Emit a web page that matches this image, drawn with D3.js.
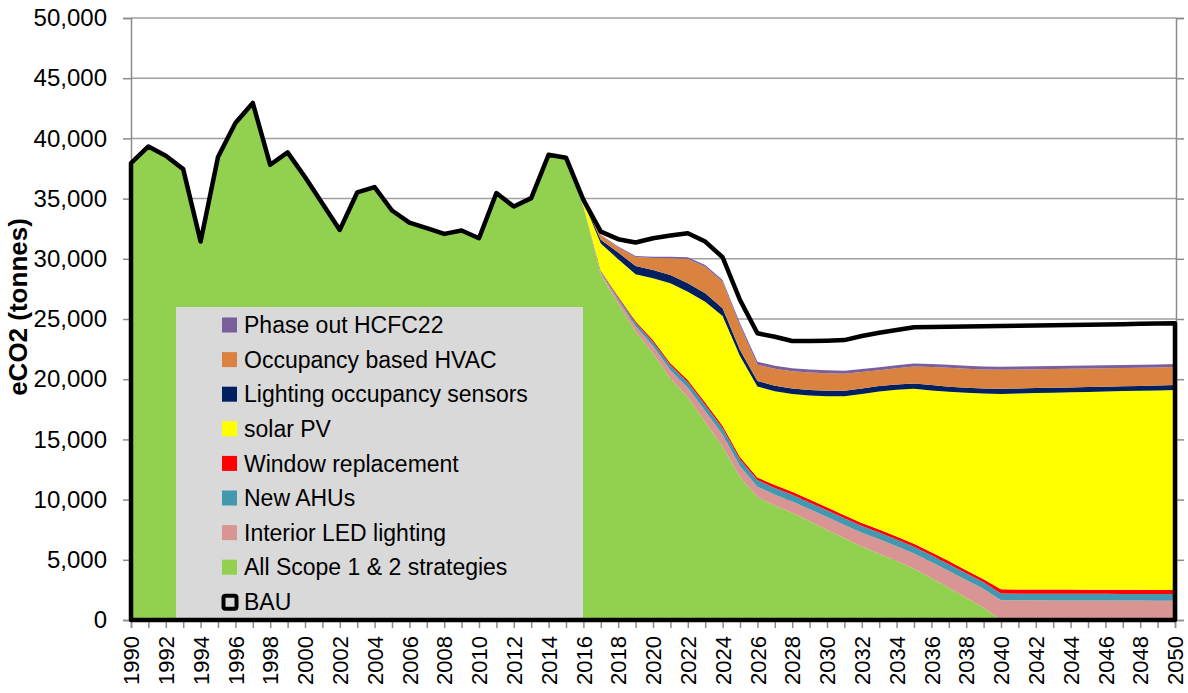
<!DOCTYPE html>
<html>
<head>
<meta charset="utf-8">
<script src="https://cdn.jsdelivr.net/npm/d3@7"></script>
<style>
  body { margin: 0; background: #fff; }
  svg text { font-family: "Liberation Sans", Arial, sans-serif; fill: #000; }
</style>
</head>
<body>
<svg id="chart_svg" width="1188" height="693"></svg>
<script>
// years on the x axis
var years = d3.range(1990, 2051);

// BAU (black outline)
var bau = [37950, 39330, 38560, 37450, 31430, 38450, 41280, 42940, 37810, 38840, 36800, 34600, 32400,
  35510, 35960, 34010, 33010, 32540, 32070, 32350, 31710, 35460, 34340, 35040, 38640, 38400,
  34900, 32260, 31630, 31350, 31710, 31930, 32130, 31430, 30130, 26580,
  23810, 23530, 23170, 23170, 23200, 23250, 23590, 23860, 24080, 24310,
  24330, 24350, 24370, 24400, 24420, 24440, 24460, 24480, 24510, 24530, 24550, 24570, 24600, 24620, 24640];

// stacked series, bottom to top
var allScope = [37950, 39330, 38560, 37450, 31430, 38450, 41280, 42940, 37810, 38840, 36800, 34600, 32400,
  35510, 35960, 34010, 33010, 32540, 32070, 32350, 31710, 35460, 34340, 35040, 38640, 38400,
  34300, 28700, 26270, 23940, 22150, 20050, 18500, 16460, 14380, 11880,
  10220, 9500, 8900, 8200, 7500, 6800, 6100, 5500, 4900, 4260,
  3480, 2680, 1850, 1010, 0, 0, 0, 0, 0, 0, 0, 0, 0, 0, 0];
var interiorLED = [0, 0, 0, 0, 0, 0, 0, 0, 0, 0, 0, 0, 0, 0, 0, 0, 0, 0, 0, 0, 0, 0, 0, 0, 0, 0,
  50, 150, 300, 450, 600, 700, 800, 900, 1000, 900,
  850, 900, 950, 1000, 1050, 1100, 1150, 1200, 1230, 1260,
  1330, 1400, 1480, 1560, 1650, 1640, 1640, 1630, 1630, 1620, 1620, 1610, 1610, 1600, 1600];
var newAHUs = [0, 0, 0, 0, 0, 0, 0, 0, 0, 0, 0, 0, 0, 0, 0, 0, 0, 0, 0, 0, 0, 0, 0, 0, 0, 0,
  30, 100, 200, 300, 350, 400, 450, 500, 550, 550,
  550, 560, 560, 560, 560, 560, 560, 560, 560, 560,
  560, 560, 560, 560, 550, 550, 550, 550, 550, 550, 550, 550, 550, 550, 550];
var windowRepl = [0, 0, 0, 0, 0, 0, 0, 0, 0, 0, 0, 0, 0, 0, 0, 0, 0, 0, 0, 0, 0, 0, 0, 0, 0, 0,
  10, 50, 100, 130, 150, 170, 180, 200, 200, 200,
  220, 250, 250, 250, 250, 250, 250, 250, 250, 250,
  250, 250, 250, 250, 350, 350, 350, 350, 350, 350, 350, 350, 350, 350, 350];
var solarPV = [0, 0, 0, 0, 0, 0, 0, 0, 0, 0, 0, 0, 0, 0, 0, 0, 0, 0, 0, 0, 0, 0, 0, 0, 0, 0,
  360, 2280, 3100, 3890, 5130, 6640, 7340, 8380, 9110, 8390,
  7560, 7790, 8120, 8640, 9230, 9880, 10720, 11470, 12180, 12870,
  13440, 14060, 14730, 15430, 16230, 16270, 16310, 16350, 16380, 16420, 16450, 16500, 16530, 16570, 16610];
var lightingOcc = [0, 0, 0, 0, 0, 0, 0, 0, 0, 0, 0, 0, 0, 0, 0, 0, 0, 0, 0, 0, 0, 0, 0, 0, 0, 0,
  50, 300, 550, 700, 700, 700, 700, 700, 650, 500,
  450, 450, 450, 450, 450, 450, 450, 450, 450, 450,
  450, 420, 420, 420, 420, 420, 410, 410, 410, 410, 410, 400, 400, 400, 400];
var occHVAC = [0, 0, 0, 0, 0, 0, 0, 0, 0, 0, 0, 0, 0, 0, 0, 0, 0, 0, 0, 0, 0, 0, 0, 0, 0, 0,
  40, 370, 420, 730, 980, 1390, 2010, 2200, 2200, 2020,
  1350, 1410, 1420, 1450, 1460, 1410, 1370, 1320, 1330, 1410,
  1500, 1580, 1570, 1580, 1580, 1570, 1560, 1550, 1540, 1530, 1520, 1520, 1510, 1510, 1500];
var hcfc22 = [0, 0, 0, 0, 0, 0, 0, 0, 0, 0, 0, 0, 0, 0, 0, 0, 0, 0, 0, 0, 0, 0, 0, 0, 0, 0,
  10, 50, 80, 100, 120, 130, 150, 150, 150, 200,
  250, 250, 250, 250, 250, 250, 250, 250, 250, 250,
  250, 250, 250, 250, 250, 250, 250, 250, 250, 250, 250, 250, 250, 250, 250];

var yTicks = [0, 5000, 10000, 15000, 20000, 25000, 30000, 35000, 40000, 45000, 50000];

var SERIES = [
  { key: "scope", name: "All Scope 1 & 2 strategies", values: allScope, color: "#92d050" },
  { key: "led", name: "Interior LED lighting", values: interiorLED, color: "#d99594" },
  { key: "ahu", name: "New AHUs", values: newAHUs, color: "#4398b0" },
  { key: "win", name: "Window replacement", values: windowRepl, color: "#ff0000" },
  { key: "pv", name: "solar PV", values: solarPV, color: "#ffff00" },
  { key: "occ", name: "Lighting occupancy sensors", values: lightingOcc, color: "#002060" },
  { key: "hvac", name: "Occupancy based HVAC", values: occHVAC, color: "#da8340" },
  { key: "hcfc", name: "Phase out HCFC22", values: hcfc22, color: "#7b5e9c" }
];

var PLOT = { LEFT: 131, RIGHT: 1175, TOP: 18, BOTTOM: 620 };

var svg = d3.select("#chart_svg");

var x = d3.scaleLinear().domain([1990, 2050]).range([PLOT.LEFT, PLOT.RIGHT]);
var y = d3.scaleLinear().domain([0, 50000]).range([PLOT.BOTTOM, PLOT.TOP]);

// table for the stack
var table = years.map(function (yr, i) {
  var row = { year: yr };
  SERIES.forEach(function (s) { row[s.key] = s.values[i]; });
  return row;
});

var stacked = d3.stack().keys(SERIES.map(function (s) { return s.key; }))(table);

// gridlines
svg.append("g").selectAll("line").data(yTicks.filter(function (d) { return d > 0; })).enter()
  .append("line")
  .attr("x1", PLOT.LEFT).attr("x2", PLOT.RIGHT + 1)
  .attr("y1", function (d) { return y(d); }).attr("y2", function (d) { return y(d); })
  .attr("stroke", "#a0a0a0").attr("stroke-width", 1.5);

// stacked areas
var area = d3.area()
  .x(function (d) { return x(d.data.year); })
  .y0(function (d) { return y(d[0]); })
  .y1(function (d) { return y(d[1]); });

svg.append("g").selectAll("path").data(stacked).enter()
  .append("path")
  .attr("d", area)
  .attr("fill", function (d, i) { return SERIES[i].color; });

// left axis
var yAxis = svg.append("g").attr("transform", "translate(" + PLOT.LEFT + ",0)")
  .call(d3.axisLeft(y).tickValues(yTicks).tickSize(8).tickPadding(16).tickFormat(d3.format(",")));
yAxis.select(".domain").attr("stroke", "#8c8c8c").attr("stroke-width", 1.5);
yAxis.selectAll(".tick line").attr("stroke", "#8c8c8c").attr("stroke-width", 1.5);
yAxis.selectAll("text").attr("font-size", 24).attr("font-family", "Liberation Sans, Arial, sans-serif");

// right axis (no labels)
var yAxisR = svg.append("g").attr("transform", "translate(" + (PLOT.RIGHT + 1) + ",0)")
  .call(d3.axisRight(y).tickValues(yTicks).tickSize(8).tickFormat(""));
yAxisR.select(".domain").attr("stroke", "#8c8c8c").attr("stroke-width", 1.5);
yAxisR.selectAll(".tick line").attr("stroke", "#8c8c8c").attr("stroke-width", 1.5);

// bottom axis: a tick for every year, a label every 2 years
var xAxis = svg.append("g").attr("transform", "translate(0," + PLOT.BOTTOM + ")")
  .call(d3.axisBottom(x).tickValues(years).tickSize(8)
    .tickFormat(function (d) { return d % 2 === 0 ? d : ""; }));
xAxis.select(".domain").attr("stroke", "#8c8c8c").attr("stroke-width", 1.5);
xAxis.selectAll(".tick line").attr("stroke", "#8c8c8c").attr("stroke-width", 1.5);
xAxis.selectAll("text")
  .attr("font-size", 22).attr("font-family", "Liberation Sans, Arial, sans-serif")
  .attr("transform", "rotate(-90)")
  .attr("text-anchor", "end")
  .attr("x", -16).attr("y", 0).attr("dy", "0.35em");

// legend
var legend = svg.append("g");
legend.append("rect").attr("x", 176).attr("y", 307).attr("width", 407).attr("height", 311).attr("fill", "#d9d9d9");

var legendItems = SERIES.slice().reverse().map(function (s) { return { name: s.name, color: s.color }; });
legendItems.push({ name: "BAU", color: null });

var rows = legend.selectAll("g.item").data(legendItems).enter().append("g")
  .attr("class", "item")
  .attr("transform", function (d, i) { return "translate(222," + (325 + i * 34.6) + ")"; });

rows.each(function (d) {
  var g = d3.select(this);
  if (d.color) {
    g.append("rect").attr("x", 0).attr("y", -7.5).attr("width", 15).attr("height", 15).attr("fill", d.color);
  } else {
    g.append("rect").attr("x", 1.5).attr("y", -6).attr("width", 13).attr("height", 13).attr("rx", 2)
      .attr("fill", "none").attr("stroke", "#000").attr("stroke-width", 4);
  }
  g.append("text").attr("x", 22).attr("y", 0).attr("dy", "0.36em")
    .attr("font-size", 23).text(d.name);
});

// BAU outline on top
var bauArea = d3.area()
  .x(function (d, i) { return x(years[i]); })
  .y0(y(0))
  .y1(function (d) { return y(d); });

svg.append("path").datum(bau)
  .attr("d", bauArea)
  .attr("fill", "none")
  .attr("stroke", "#000")
  .attr("stroke-width", 4.5)
  .attr("stroke-linejoin", "round");

// y axis title
svg.append("text")
  .attr("transform", "translate(27,307) rotate(-90)")
  .attr("text-anchor", "middle")
  .attr("font-size", 26).attr("font-weight", "bold")
  .text("eCO2 (tonnes)");
</script>
</body>
</html>
